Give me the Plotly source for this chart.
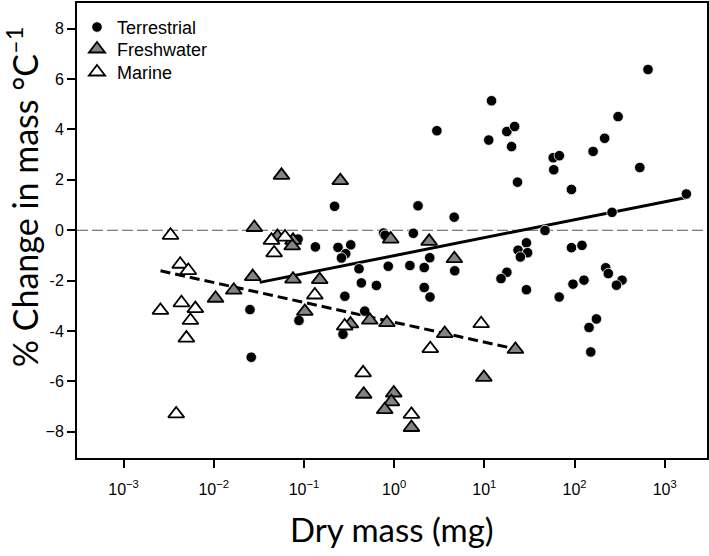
import numpy as np
import plotly.graph_objects as go

# ---- data (log10 of dry mass in mg, % change per degree C) ----
terr_log_mass = [2.815, 1.08, 0.474, 1.25, 1.336, 1.049, 1.302, 2.483, 2.334, 2.206,
                 1.764, 1.832, 1.77, 2.724, 1.368, 1.966, 3.24, -0.66, 0.265, 0.666,
                 2.416, 1.673, -0.118, -0.10, 0.213, -1.065, -0.873, -0.622, -0.481, -0.537,
                 -0.584, -0.389, -0.065, 0.175, 0.334, 0.395, 0.672, -0.363, -0.196, 0.334,
                 0.398, -0.546, -0.326, -0.567, -1.598, -1.055, -1.584, 1.467, 1.374, 1.48,
                 1.40, 1.966, 2.083, 1.25, 1.185, 1.467, 1.83, 1.983, 2.105, 2.346,
                 2.375, 2.527, 2.465, 2.243, 2.161, 2.18]
terr_change = [6.38, 5.14, 3.95, 3.92, 4.12, 3.58, 3.32, 4.51, 3.65, 3.13,
               2.88, 2.96, 2.40, 2.49, 1.91, 1.62, 1.44, 0.95, 0.97, 0.52,
               0.71, -0.01, -0.11, -0.20, -0.12, -0.35, -0.66, -0.68, -0.58, -0.93,
               -1.10, -1.53, -1.43, -1.40, -1.48, -1.09, -1.61, -2.09, -2.19, -2.27,
               -2.65, -2.62, -3.21, -4.13, -3.15, -3.58, -5.04, -0.50, -0.79, -0.89,
               -1.06, -0.69, -0.60, -1.67, -1.92, -2.36, -2.65, -2.14, -1.98, -1.49,
               -1.72, -1.98, -2.18, -3.52, -3.86, -4.83]

fresh_log_mass = [-1.249, -0.597, -1.55, -1.294, -1.121, -1.13, -0.038, 0.388, 0.668, -1.568,
                  -1.121, -0.825, -1.98, -1.778, -0.99, -0.484, -0.27, -0.08, 0.561, 1.345,
                  0.995, -0.337, -0.004, -0.03, -0.104, 0.192]
fresh_change = [2.18, 1.97, 0.11, -0.25, -0.40, -0.62, -0.35, -0.44, -1.13, -1.84,
                -1.94, -1.96, -2.70, -2.38, -3.22, -3.72, -3.57, -3.67, -4.10, -4.73,
                -5.84, -6.51, -6.46, -6.81, -7.12, -7.83]

marine_log_mass = [-2.479, -2.372, -2.282, -2.591, -2.358, -2.204, -2.258, -2.303, -2.416, -1.36,
                   -1.21, -1.33, -0.879, -0.548, 0.965, 0.401, -0.344, 0.192]
marine_change = [-0.20, -1.35, -1.60, -3.18, -2.88, -3.11, -3.58, -4.28, -7.29, -0.40,
                 -0.27, -0.90, -2.57, -3.80, -3.71, -4.70, -5.66, -7.31]

terr_fit_log_mass = [-1.49, 3.24]
terr_fit_change = [-2.07, 1.30]
aquatic_fit_log_mass = [-2.59, 1.33]
aquatic_fit_change = [-1.61, -4.70]

x_tick_exponents = [-3, -2, -1, 0, 1, 2, 3]
y_tick_values = [-8, -6, -4, -2, 0, 2, 4, 6, 8]
y_tick_labels = ["\u22128", "-6", "-4", "-2", "0", "2", "4", "6", "8"]

def mg(v):
    return 10 ** np.array(v, dtype=float)

fig = go.Figure()

fig.add_trace(go.Scatter(
    x=mg(terr_fit_log_mass), y=terr_fit_change, mode="lines",
    line=dict(color="black", width=3), showlegend=False, hoverinfo="skip"))
fig.add_trace(go.Scatter(
    x=mg(aquatic_fit_log_mass), y=aquatic_fit_change, mode="lines",
    line=dict(color="black", width=3, dash="10px,5px"), showlegend=False, hoverinfo="skip"))

fig.add_trace(go.Scatter(
    x=mg(terr_log_mass), y=terr_change, mode="markers", name="Terrestrial", legend="legend",
    marker=dict(symbol="circle", size=10.5, color="black", line=dict(color="white", width=0.8))))
fig.add_trace(go.Scatter(
    x=mg(fresh_log_mass), y=fresh_change, mode="markers", name="Freshwater", legend="legend2",
    marker=dict(symbol="triangle-up", size=14, color="#838383", line=dict(color="black", width=1.8))))
fig.add_trace(go.Scatter(
    x=mg(marine_log_mass), y=marine_change, mode="markers", name="Marine", legend="legend3",
    marker=dict(symbol="triangle-up", size=14, color="white", line=dict(color="black", width=1.8))))

fig.add_shape(type="line", xref="paper", yref="y", x0=0, x1=1, y0=0, y1=0,
              line=dict(color="#555555", width=1.2, dash="11px,4px"), layer="below")

tick_font = dict(family="Liberation Sans, Arial, sans-serif", size=16, color="black")

fig.update_xaxes(
    type="log", range=[-3.516, 3.469],
    tickvals=[10.0 ** e for e in x_tick_exponents],
    ticktext=["10<sup>%d</sup>" % e if e >= 0 else "10<sup>\u2212%d</sup>" % (-e) for e in x_tick_exponents],
    ticks="outside", ticklen=8, tickwidth=1.5, tickcolor="black",
    showline=True, linecolor="black", linewidth=2, mirror=True,
    showgrid=False, zeroline=False, tickfont=tick_font, ticklabelstandoff=8,
    automargin=False)
fig.update_yaxes(
    range=[-9.04, 9.02], tickvals=y_tick_values, ticktext=y_tick_labels,
    ticks="outside", ticklen=8, tickwidth=1.5, tickcolor="black",
    showline=True, linecolor="black", linewidth=2, mirror=True,
    showgrid=False, zeroline=False, tickfont=tick_font, automargin=False)

title_font = dict(family="Lato, Open Sans, sans-serif", size=34, color="black")
fig.add_annotation(text="% Change in mass \u00b0C<sup>\u20131</sup>", xref="paper", yref="paper",
                   x=-0.086, y=0.575, textangle=-90, showarrow=False,
                   xanchor="center", yanchor="middle", font=title_font)
fig.add_annotation(text="Dry mass (mg)", xref="paper", yref="paper",
                   x=0.5, y=-0.155, showarrow=False, xanchor="center", yanchor="middle",
                   font=dict(family="Lato, Open Sans, sans-serif", size=33, color="black"))

legend_font = dict(family="Liberation Sans, Arial, sans-serif", size=18, color="black")
def leg(yc):
    return dict(x=0.0, y=(457.7 - yc) / 455.0, xanchor="left", yanchor="middle",
                font=legend_font, bgcolor="rgba(0,0,0,0)")

fig.update_layout(
    width=709, height=556,
    margin=dict(l=77, r=2, t=3, b=98),
    paper_bgcolor="white", plot_bgcolor="white",
    legend=leg(27), legend2=leg(49), legend3=leg(72),
)

fig.write_html("out.html", config={"displayModeBar": False},
               post_script="document.body.style.margin='0';document.body.style.padding='0';")
